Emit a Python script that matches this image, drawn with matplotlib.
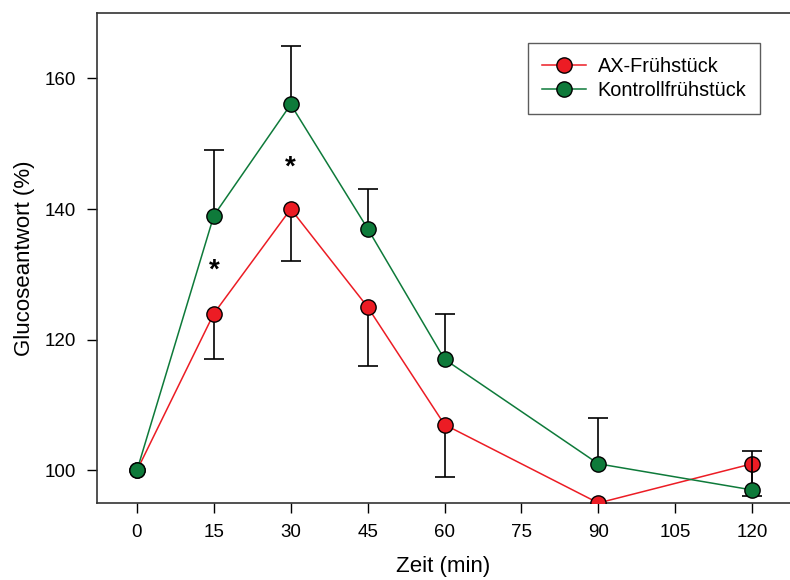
import matplotlib
matplotlib.use("Agg")
import matplotlib.pyplot as plt
import numpy as np

plt.rcParams['font.family'] = ['Liberation Sans', 'DejaVu Sans']

# Time points (min) and relative glucose response (%)
zeit = [0, 15, 30, 45, 60, 90, 120]
ax_fruehstueck = [100, 124, 140, 125, 107, 95, 101]
ax_err_unten = [0, 7, 8, 9, 8, 0, 5]
kontrolle = [100, 139, 156, 137, 117, 101, 97]
kontrolle_err_oben = [0, 10, 9, 6, 7, 7, 6]

x_ticks = [0, 15, 30, 45, 60, 75, 90, 105, 120]
y_ticks = [100, 120, 140, 160]

# Significance markers
sig_x = [15, 30]
sig_y = [130.6, 146.4]

rot = '#ec1c24'
gruen = '#0e7a3a'


def einseitig(ax, x, y, err, unten, zorder):
    """One-sided error bars (only points with a non-zero error), single cap."""
    sel = [i for i, e in enumerate(err) if e > 0]
    xs = [x[i] for i in sel]
    ys = [y[i] for i in sel]
    es = [err[i] for i in sel]
    nulls = [0] * len(es)
    yerr = [es, nulls] if unten else [nulls, es]
    _, caps, _ = ax.errorbar(xs, ys, yerr=yerr, fmt='none', ecolor='black',
                             elinewidth=1.2, capsize=7, capthick=1.2, zorder=zorder)
    # drop the cap that sits on the data point itself
    for cap in caps:
        if np.allclose(cap.get_ydata(), ys):
            cap.remove()


fig = plt.figure(figsize=(7.9, 5.8), dpi=100)
ax = fig.add_axes([97 / 790, 1 - 503 / 580, 1 - 97 / 790, (503 - 13) / 580])

einseitig(ax, zeit, ax_fruehstueck, ax_err_unten, True, 2)
ax.plot(zeit, ax_fruehstueck, '-o', color=rot, lw=1.1, ms=11,
        mfc=rot, mec='black', mew=1.0, label='AX-Frühstück', zorder=3)

einseitig(ax, zeit, kontrolle, kontrolle_err_oben, False, 4)
ax.plot(zeit, kontrolle, '-o', color=gruen, lw=1.1, ms=11,
        mfc=gruen, mec='black', mew=1.0, label='Kontrollfrühstück', zorder=5)

for sx, sy in zip(sig_x, sig_y):
    ax.text(sx, sy, '*', ha='center', va='center', fontsize=20,
            fontweight='bold', color='black')

ax.set_xlim(-7.8, 127.4)
ax.set_ylim(95, 170)
ax.set_xticks(x_ticks)
ax.set_yticks(y_ticks)
ax.tick_params(direction='out', length=7, width=1.0, labelsize=13.5, pad=8)
for s in ['left', 'bottom', 'top']:
    ax.spines[s].set_linewidth(1.2)
    ax.spines[s].set_color('#333333')
ax.spines['right'].set_visible(False)

ax.set_xlabel('Zeit (min)', fontsize=16, labelpad=11)
ax.set_ylabel('Glucoseantwort (%)', fontsize=16, labelpad=7)

leg = ax.legend(loc='upper left', bbox_to_anchor=((528 - 97) / 693, 1 - (43 - 13) / 490),
                borderaxespad=0, fontsize=14.3, frameon=True, fancybox=False,
                edgecolor='#333333', handlelength=2.2, handletextpad=0.6,
                borderpad=0.7, labelspacing=0.25)
leg.get_frame().set_linewidth(1.0)

fig.savefig('out.png', dpi=100)
